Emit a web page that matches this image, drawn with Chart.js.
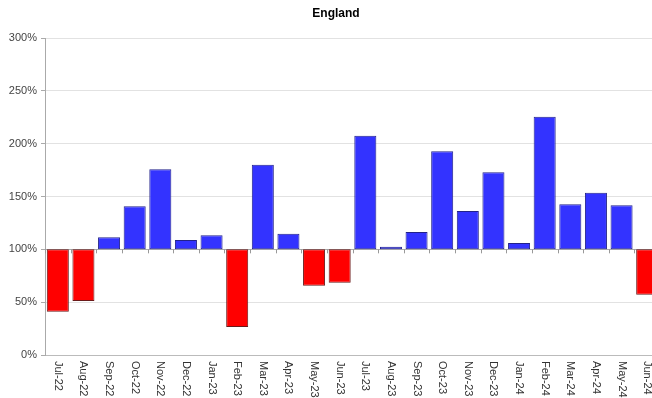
<!DOCTYPE html>
<html>
<head>
<meta charset="utf-8">
<script src="https://cdn.jsdelivr.net/npm/chart.js@4"></script>
<style>
html,body{margin:0;padding:0;background:#fff;overflow:hidden;}
#wrap{width:672px;height:398px;}
</style>
</head>
<body>
<div id="wrap"><canvas id="c" width="672" height="398"></canvas></div>
<script>
const months = ["Jul-22","Aug-22","Sep-22","Oct-22","Nov-22","Dec-22","Jan-23","Feb-23","Mar-23","Apr-23","May-23","Jun-23","Jul-23","Aug-23","Sep-23","Oct-23","Nov-23","Dec-23","Jan-24","Feb-24","Mar-24","Apr-24","May-24","Jun-24"];
const values = [41, 51, 111.4, 140.7, 175.7, 108.8, 113.3, 26.5, 180.1, 114.8, 65.6, 68.4, 207.5, 102.5, 116.4, 192.8, 136.3, 172.9, 106, 225.5, 142.6, 153.6, 141.7, 57.1];
const baseline = 100;
const yTicks = [0, 50, 100, 150, 200, 250, 300];
const titleText = 'England';

const FONT = '"Liberation Sans", Arial, sans-serif';

const floating = values.map(v => [baseline, v]);
const fills = values.map(v => v < baseline ? '#ff0000' : '#3333ff');
const borders = values.map(v => v < baseline ? '#6a1a1a' : '#22228a');

const labelPlugin = {
  id: 'rotLabels',
  afterDraw(chart) {
    const ctx = chart.ctx;
    const xs = chart.scales.x, ys = chart.scales.y;
    const yBase = ys.getPixelForValue(baseline);
    const step = xs.getPixelForValue(1) - xs.getPixelForValue(0);
    ctx.save();
    ctx.strokeStyle = '#999';
    ctx.lineWidth = 1;
    for (let i = 0; i <= months.length; i++) {
      const x = Math.round(xs.getPixelForValue(i) - step / 2) + 0.5;
      ctx.beginPath();
      ctx.moveTo(x, yBase);
      ctx.lineTo(x, yBase + 4);
      ctx.stroke();
    }
    ctx.fillStyle = '#333';
    ctx.font = '11px ' + FONT;
    ctx.textAlign = 'left';
    ctx.textBaseline = 'middle';
    const top = chart.chartArea.bottom + 6;
    months.forEach((m, i) => {
      const x = xs.getPixelForValue(i);
      ctx.save();
      ctx.translate(x, top);
      ctx.rotate(Math.PI / 2);
      ctx.fillText(m, 0, 0);
      ctx.restore();
    });
    // title
    ctx.fillStyle = '#000';
    ctx.font = 'bold 12px ' + FONT;
    ctx.textAlign = 'center';
    ctx.textBaseline = 'middle';
    ctx.fillText(titleText, 336, 14);
    ctx.restore();
  }
};

new Chart(document.getElementById('c'), {
  type: 'bar',
  data: {
    labels: months,
    datasets: [{
      data: floating,
      backgroundColor: fills,
      borderColor: borders,
      borderWidth: 1,
      borderSkipped: false,
      barPercentage: 0.86,
      categoryPercentage: 1
    }]
  },
  options: {
    responsive: false,
    animation: false,
    layout: { padding: { left: 0, right: 12, top: 38, bottom: 0 } },
    plugins: {
      legend: { display: false },
      tooltip: { enabled: false },
      title: { display: false }
    },
    scales: {
      x: {
        grid: { display: false },
        border: { display: true, color: '#bbb' },
        ticks: { display: false },
        afterFit(scale) { scale.height = 43; }
      },
      y: {
        min: 0,
        max: 300,
        afterBuildTicks(scale) { scale.ticks = yTicks.map(v => ({ value: v })); },
        grid: {
          color: ctx => (ctx.tick && ctx.tick.value === baseline) ? '#aaa' : '#e2e2e2',
          tickLength: 4,
          tickColor: '#aaa'
        },
        border: { display: true, color: '#aaa' },
        ticks: {
          color: '#444',
          font: { family: FONT, size: 11 },
          padding: 4,
          callback: v => v + '%'
        },
        afterFit(scale) { scale.width = 45; }
      }
    }
  },
  plugins: [labelPlugin]
});
</script>
</body>
</html>
